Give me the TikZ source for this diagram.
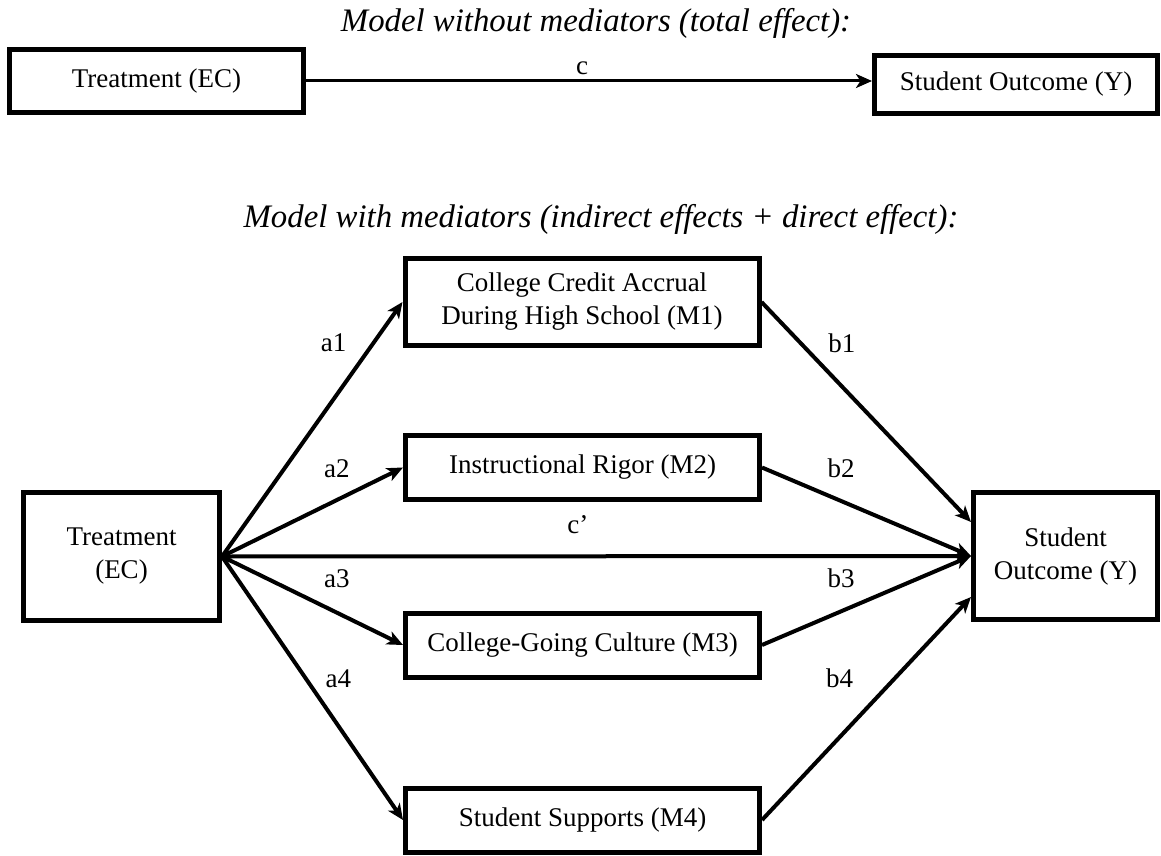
\documentclass[tikz,border=0pt]{standalone}
\usepackage{fontspec}
\setmainfont{Liberation Serif}
\usetikzlibrary{arrows.meta}

\begin{document}
\begin{tikzpicture}[x=0.5pt, y=-0.5pt, >={Stealth[length=8pt, width=7pt, inset=2.2pt]},
		every node/.style={font=\fontsize{13.5}{16.5}\selectfont},
		box/.style={draw, line width=2.5pt, align=center, inner sep=2pt},
		medbox/.style={box, minimum width=177pt, minimum height=32pt},
		effect/.style={->, line width=2pt},
		lbl/.style={inner sep=0pt},
		ttl/.style={font=\fontsize{16.4}{19}\selectfont\itshape, anchor=base}]
	\useasboundingbox (0,0) rectangle (1161,856);

	% model without mediators
	\node[ttl] (ttlA) at (596,32) {Model without mediators (total effect):};
	\node[box, minimum width=147pt, minimum height=31.5pt] (trtA) at (156.5,81) {Treatment (EC)};
	\node[box, minimum width=141.5pt, minimum height=29pt] (outA) at (1016,84.5) {Student Outcome (Y)};
	\draw[->, line width=1.5pt] (trtA.east) -- (trtA.east -| outA.west) node[lbl, pos=0.488, above=2.5pt] (lc) {c};

	% model with mediators
	\node[ttl] (ttlB) at (601,227) {Model with mediators (indirect effects + direct effect):};
	\node[box, minimum width=98pt, minimum height=64pt] (trtB) at (121.5,556.5) {Treatment\\(EC)};
	\node[box, minimum width=92pt, minimum height=63.5pt] (outB) at (1065.5,556) {Student\\Outcome (Y)};
	\node[medbox, minimum height=43.5pt] (m1) at (582,302) {College Credit Accrual\\During High School (M1)};
	\node[medbox] (m2) at (582.5,467.5) {Instructional Rigor (M2)};
	\node[medbox] (m3) at (582.5,645) {College-Going Culture (M3)};
	\node[medbox] (m4) at (582.5,820) {Student Supports (M4)};

	% a paths
	\draw[effect] (trtB.east) -- (m1.west) node[lbl, pos=0.839, left=12.5pt] (la1) {a1};
	\draw[effect] (trtB.east) -- (m2.west) node[lbl, pos=0.635, above=10pt] (la2) {a2};
	\draw[effect] (trtB.east) -- (m3.west) node[lbl, pos=0.635, above=11.5pt] (la3) {a3};
	\draw[effect] (trtB.east) -- (m4.west) node[lbl, pos=0.462, right=9pt] (la4) {a4};
	% direct path
	\draw[effect] (trtB.east) -- (outB.west) node[lbl, pos=0.475, above=10.5pt] (lcp) {c’};
	% b paths
	\draw[effect] (m1.east) -- ([yshift=17pt]outB.west) node[lbl, pos=0.186, right=13pt] (lb1) {b1};
	\draw[effect] (m2.east) -- (outB.west) node[lbl, pos=0.378, above=10.8pt] (lb2) {b2};
	\draw[effect] (m3.east) -- (outB.west) node[lbl, pos=0.378, above=11pt] (lb3) {b3};
	\draw[effect] (m4.east) -- ([yshift=-20.5pt]outB.west) node[lbl, pos=0.637, left=20pt] (lb4) {b4};
\end{tikzpicture}
\end{document}
